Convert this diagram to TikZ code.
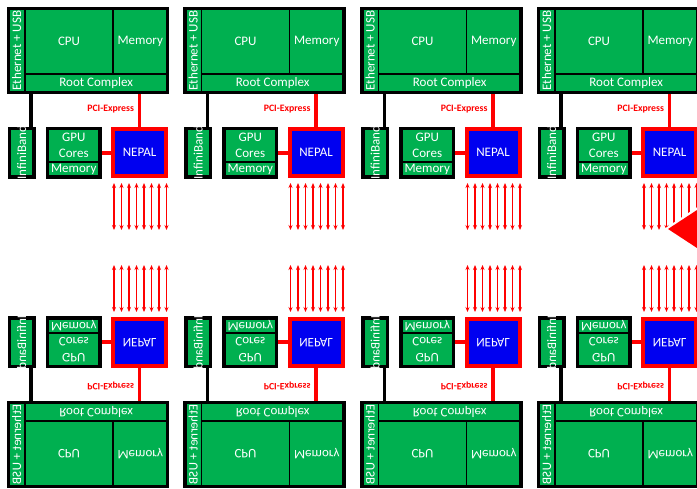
\documentclass[tikz,border=0pt]{standalone}
\usepackage{fontspec}
\setmainfont{Carlito}
\usetikzlibrary{arrows.meta,backgrounds}
\definecolor{pgreen}{HTML}{00B050}
\definecolor{pblue}{HTML}{0000F0}
\definecolor{pred}{HTML}{FF0000}
\tikzset{
  box/.style={inner sep=0pt, outer sep=0pt, anchor=north west, rectangle},
  part/.style={box, draw=black, line width=1.3pt, fill=pgreen},
  frame/.style={box, draw=black, line width=3.4pt},
  nepalbox/.style={box, draw=pred, line width=4pt, fill=pblue, text=white,
    font=\fontsize{12.8}{15}\selectfont},
  txt/.style={inner sep=0pt, outer sep=0pt, anchor=center, text=white,
    font=\fontsize{13}{16}\selectfont, align=center},
  pcilab/.style={inner sep=0pt, outer sep=0pt, anchor=east, text=pred,
    font=\fontsize{9.8}{11}\selectfont\bfseries},
  blkline/.style={draw=black, line width=3.6pt},
  redline/.style={draw=pred, line width=3.6pt},
  linkarrow/.style={draw=pred, line width=1.2pt,
    {Stealth[length=5pt,width=4pt]}-{Stealth[length=5pt,width=4pt]}}
}
\newcommand\cellunit[1]{%
  % host board
  \node[part, minimum width=16.5pt, minimum height=84pt] (#1eth) at (8.5,8.5) {};
  \node[part, minimum width=88pt, minimum height=65.5pt] (#1cpu) at (25,8.5) {};
  \node[part, minimum width=54.5pt, minimum height=65.5pt] (#1mem) at (113,8.5) {};
  \node[part, minimum width=142.5pt, minimum height=18.5pt] (#1root) at (25,74) {};
  \node[frame, minimum width=159pt, minimum height=84pt] (#1main) at (8.5,8.5) {};
  \node[txt, rotate=90] (#1ethtxt) at (#1eth.center) {Ethernet + USB};
  \node[txt] (#1cputxt) at (#1cpu.center) {CPU};
  \node[txt] (#1memtxt) at (#1mem.center) {Memory};
  \node[txt] (#1roottxt) at (#1root.center) {Root Complex};
  % InfiniBand
  \node[part, line width=3.4pt, minimum width=24.5pt, minimum height=48.5pt] (#1ib) at (9.5,128.5) {};
  \node[txt, rotate=90] (#1ibtxt) at (#1ib.center) {InfiniBand};
  % GPU
  \node[part, minimum width=52.5pt, minimum height=33.5pt] (#1gpuc) at (47.5,128.5) {};
  \node[part, minimum width=52.5pt, minimum height=15pt] (#1gpum) at (47.5,162) {};
  \node[frame, minimum width=52.5pt, minimum height=48.5pt] (#1gpu) at (47.5,128.5) {};
  \node[txt] (#1gputxt) at (#1gpuc.center) {GPU\\Cores};
  \node[txt] (#1gpumtxt) at (#1gpum.center) {Memory};
  % NEPAL
  \node[nepalbox, minimum width=53pt, minimum height=47pt] (#1nepal) at (113,129) {};
  \node[txt] (#1neptxt) at (#1nepal.center) {NEPAL};
  \node[pcilab] (#1pci) at (134,109) {PCI-Express};
  \coordinate (#1ibc) at (31,110);
  \begin{pgfonlayer}{background}
    \draw[blkline] (#1ibc |- #1main.south) -- (#1ibc |- #1ib.north);
    \draw[redline] (#1nepal.north) -- (#1nepal.north |- #1main.south);
    \draw[redline] (#1gpu.east) -- (#1gpu.east -| #1nepal.west);
  \end{pgfonlayer}
  \foreach \i in {0,...,7}{
    \coordinate (#1a\i) at (114+7.5*\i,183);
    \coordinate (#1b\i) at (114+7.5*\i,230);
    \draw[linkarrow] (#1a\i) -- (#1b\i);
  }
}
\begin{document}
\begin{tikzpicture}[x=1pt,y=-1pt]
  \useasboundingbox (0,0) rectangle (697,488);
  \clip (0,0) rectangle (697,488);
  \foreach \k/\ox in {1/0,2/176.5,3/353.5,4/530}{
    \begin{scope}[shift={(\ox,0)}]
      \cellunit{t\k}
    \end{scope}
    \begin{scope}[shift={(\ox,495)}, yscale=-1, transform shape]
      \cellunit{b\k}
    \end{scope}
  }
  \fill[white] (664,229) -- (730,185.5) -- (730,272.5) -- cycle;
  \fill[pred] (668,229) -- (730,188.4) -- (730,269.6) -- cycle;
\end{tikzpicture}
\end{document}
